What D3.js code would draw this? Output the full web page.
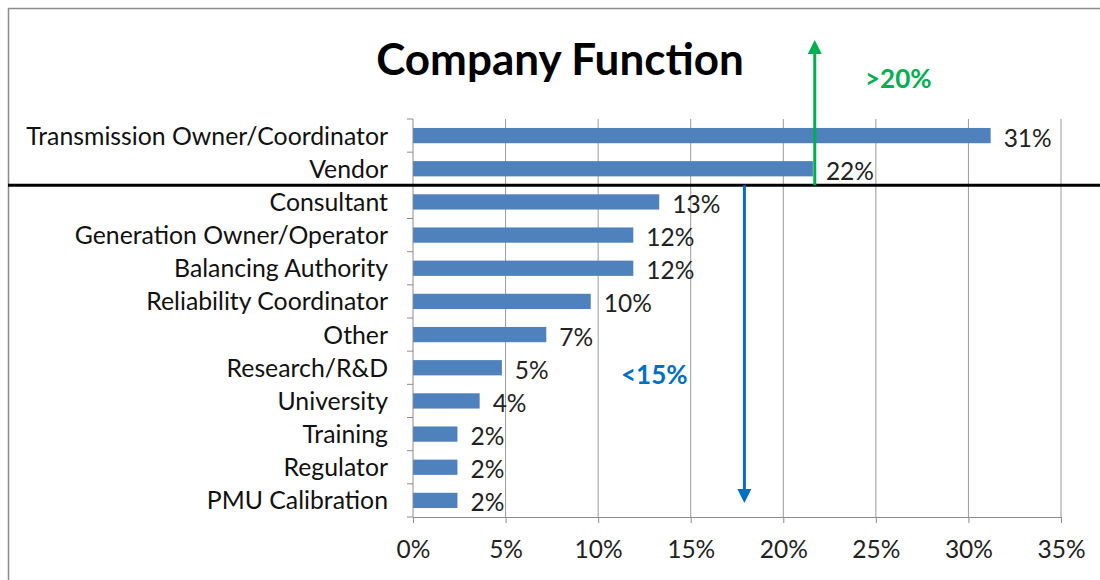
<!DOCTYPE html>
<html>
<head>
<meta charset="utf-8">
<script src="https://cdn.jsdelivr.net/npm/d3@7"></script>
<style>
    body { margin: 0; background: #fff; }
    svg { display: block; font-family: Lato, "Open Sans", sans-serif; }
    .label { font-size: 24.8px; fill: #111; }
    .value { font-size: 24.5px; fill: #222; }
    .tick-label { font-size: 24.5px; fill: #222; }
</style>
</head>
<body>
<svg id="chart" width="1100" height="580"></svg>
<script>
'use strict';

var categories = ['Transmission Owner/Coordinator', 'Vendor', 'Consultant', 'Generation Owner/Operator',
    'Balancing Authority', 'Reliability Coordinator', 'Other', 'Research/R&D', 'University',
    'Training', 'Regulator', 'PMU Calibration'];
var shares = [31.2, 21.6, 13.3, 11.9, 11.9, 9.6, 7.2, 4.8, 3.6, 2.4, 2.4, 2.4];
var shareLabels = ['31%', '22%', '13%', '12%', '12%', '10%', '7%', '5%', '4%', '2%', '2%', '2%'];
var xTicks = [0, 5, 10, 15, 20, 25, 30, 35];
// threshold arrows: value on the x axis, text
var upArrow = { at: 21.7, text: '>20%' };
var downArrow = { at: 17.9, text: '<15%' };

var svg = d3.select('#chart');
var plotLeft = 413, plotRight = 1061, plotTop = 119, plotBottom = 517;

var x = d3.scaleLinear().domain([0, 35]).range([plotLeft, plotRight]);
var y = d3.scaleBand().domain(categories).range([plotTop, plotBottom]).paddingInner(0.54).paddingOuter(0.27);

// chart frame (cut off at the right and bottom)
svg.append('rect').attr('x', 8.5).attr('y', 8.5).attr('width', 1200).attr('height', 700)
    .attr('fill', 'none').attr('stroke', '#8c8c8c').attr('stroke-width', 1.5);

svg.append('text').text('Company Function')
    .attr('x', 560).attr('y', 75).attr('text-anchor', 'middle')
    .style('font-size', '44px').style('font-weight', 'bold').attr('fill', '#000');

// gridlines
svg.append('g').selectAll('line').data(xTicks.slice(1)).enter().append('line')
    .attr('x1', function (d) { return x(d); }).attr('x2', function (d) { return x(d); })
    .attr('y1', plotTop).attr('y2', plotBottom)
    .attr('stroke', '#9a9a9a').attr('stroke-width', 1);

// bars
svg.append('g').selectAll('rect').data(shares).enter().append('rect')
    .attr('x', x(0))
    .attr('y', function (d, i) { return y(categories[i]); })
    .attr('width', function (d) { return x(d) - x(0); })
    .attr('height', y.bandwidth())
    .attr('fill', '#4f81bd');

// value labels
svg.append('g').selectAll('text').data(shares).enter().append('text')
    .attr('class', 'value')
    .attr('x', function (d) { return x(d) + 13; })
    .attr('y', function (d, i) { return y(categories[i]) + y.bandwidth() / 2 + 11; })
    .text(function (d, i) { return shareLabels[i]; });

// x axis
var xAxis = d3.axisBottom(x).tickValues(xTicks).tickSize(6).tickSizeOuter(0)
    .tickFormat(function (d) { return d + '%'; });
var gx = svg.append('g').attr('transform', 'translate(0,' + plotBottom + ')').call(xAxis);
gx.attr('font-size', null).attr('font-family', null);
gx.select('.domain').attr('stroke', '#8c8c8c');
gx.selectAll('.tick line').attr('stroke', '#8c8c8c');
gx.selectAll('.tick text').attr('class', 'tick-label').attr('fill', null).attr('y', 34).attr('dy', '0.3em');

// y axis: category labels, ticks between categories
var gy = svg.append('g');
gy.append('line').attr('x1', plotLeft).attr('x2', plotLeft).attr('y1', plotTop).attr('y2', plotBottom)
    .attr('stroke', '#8c8c8c');
gy.selectAll('line.sep').data(d3.range(categories.length + 1)).enter().append('line')
    .attr('class', 'sep')
    .attr('x1', plotLeft - 6).attr('x2', plotLeft)
    .attr('y1', function (i) { return plotTop + i * y.step(); })
    .attr('y2', function (i) { return plotTop + i * y.step(); })
    .attr('stroke', '#8c8c8c');
gy.selectAll('text').data(categories).enter().append('text')
    .attr('class', 'label')
    .attr('text-anchor', 'end')
    .attr('x', plotLeft - 25)
    .attr('y', function (d) { return y(d) + y.bandwidth() / 2 + 9; })
    .text(function (d) { return d; });

// dividing line between >20% and <15% groups
var splitY = (y('Vendor') + y.bandwidth() + y('Consultant')) / 2;
svg.append('line').attr('x1', 8).attr('x2', 1100).attr('y1', splitY).attr('y2', splitY)
    .attr('stroke', '#000').attr('stroke-width', 3);

function arrow(xPos, y1, y2, color) {
    var dir = y2 < y1 ? -1 : 1;
    svg.append('line').attr('x1', xPos).attr('x2', xPos).attr('y1', y1).attr('y2', y2 - dir * 12)
        .attr('stroke', color).attr('stroke-width', 3);
    svg.append('path')
        .attr('d', ['M', xPos - 7, y2 - dir * 14, 'L', xPos + 7, y2 - dir * 14, 'L', xPos, y2, 'Z'].join(' '))
        .attr('fill', color);
}

arrow(x(upArrow.at), splitY, 40, '#00b050');
svg.append('text').text(upArrow.text).attr('x', 865).attr('y', 88)
    .style('font-size', '26px').style('font-weight', 'bold').attr('fill', '#00b050');

arrow(x(downArrow.at), splitY, 503, '#0070c0');
svg.append('text').text(downArrow.text).attr('x', 621).attr('y', 384)
    .style('font-size', '26px').style('font-weight', 'bold').attr('fill', '#0070c0');
</script>
</body>
</html>
